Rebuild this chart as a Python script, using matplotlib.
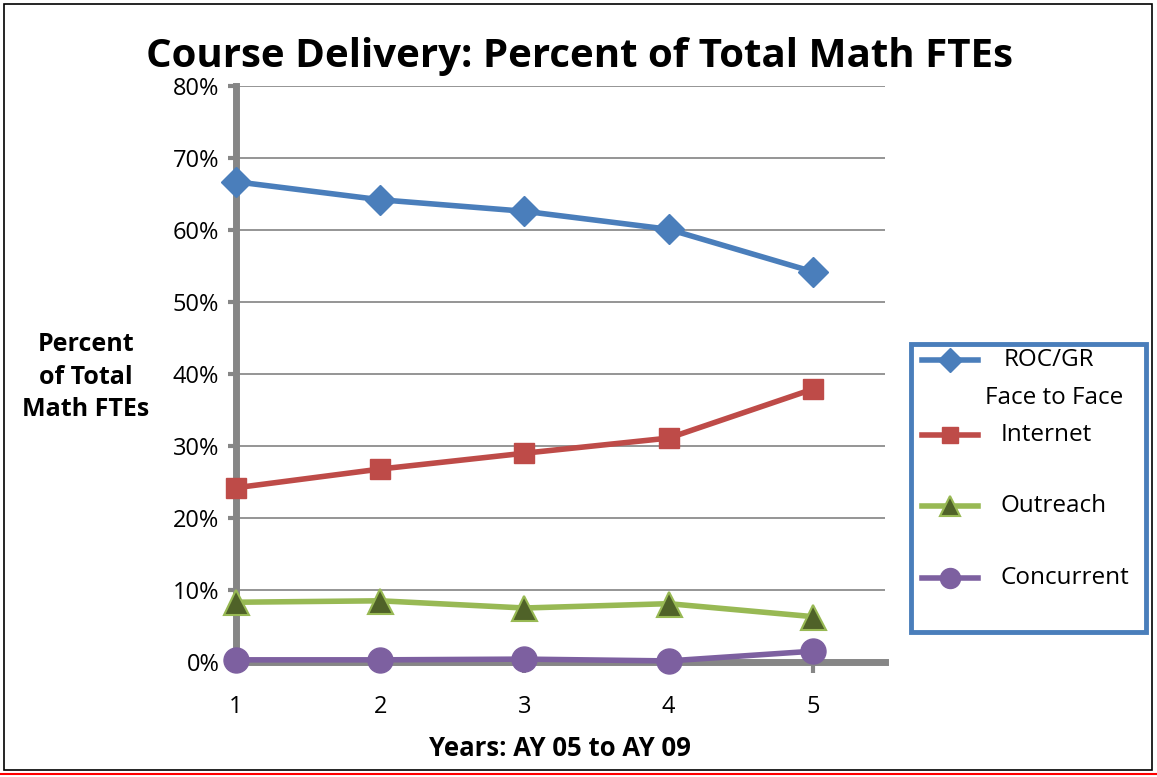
import matplotlib.pyplot as plt
from matplotlib.lines import Line2D
from matplotlib.patches import Rectangle

plt.rcParams['font.family'] = ['Open Sans', 'DejaVu Sans']

# Data (percent of total math FTEs)
years = [1, 2, 3, 4, 5]
roc_gr = [66.7, 64.2, 62.6, 60.1, 54.2]
internet = [24.2, 26.8, 29.0, 31.1, 37.9]
outreach = [8.3, 8.5, 7.5, 8.1, 6.3]
concurrent = [0.3, 0.3, 0.4, 0.15, 1.5]

names = ["ROC/GR", "Internet", "Outreach", "Concurrent"]
styles = [
    dict(color='#4A7EBB', marker='D', ms=15, mfc='#4A7EBB', mec='#4A7EBB'),
    dict(color='#BE4B48', marker='s', ms=15, mfc='#BE4B48', mec='#BE4B48'),
    dict(color='#98B954', marker='^', ms=18, mfc='#4F6228', mec='#98B954', mew=1.5),
    dict(color='#7D60A0', marker='o', ms=18, mfc='#7D60A0', mec='#7D60A0'),
]

W, H = 1157, 777
fig = plt.figure(figsize=(W / 100, H / 100), dpi=100)
ax = fig.add_axes([236 / W, 1 - 662 / H, (885 - 236) / W, (662 - 86) / H])

for vals, st in zip([roc_gr, internet, outreach, concurrent], styles):
    ax.plot(years, vals, lw=4, clip_on=False, zorder=3, **st)

ax.set_xlim(1, 5.5)
ax.set_ylim(0, 80)
ax.set_xticks(years)
ax.set_yticks(range(0, 81, 10))
ax.set_yticklabels([f"{v}%" for v in range(0, 81, 10)])
ax.yaxis.grid(True, color='#8C8C8C', lw=1.3)
ax.set_axisbelow(True)

for s in ['top', 'right']:
    ax.spines[s].set_visible(False)
for s in ['left', 'bottom']:
    ax.spines[s].set_color('#868686')
    ax.spines[s].set_linewidth(5)
ax.tick_params(axis='y', colors='#868686', length=6, width=3, labelsize=17, labelcolor='black', pad=6)
ax.tick_params(axis='x', colors='#868686', length=8, width=3, labelsize=17, labelcolor='black', pad=16)

fig.text(0.501, 1 - 56 / H, "Course Delivery: Percent of Total Math FTEs", ha='center', va='center',
         fontsize=29, fontweight='bold')
fig.text(86 / W, 1 - 377 / H, "Percent\nof Total\nMath FTEs", ha='center', va='center',
         fontsize=18, fontweight='bold', linespacing=1.4)
fig.text(560 / W, 1 - 748 / H, "Years: AY 05 to AY 09", ha='center', va='center',
         fontsize=18.5, fontweight='bold')

# legend drawn by hand so the first handle sits on the first label line
fig.add_artist(Rectangle((911 / W, 1 - 632 / H), 235 / W, 288 / H, transform=fig.transFigure,
                         fill=False, ec='#4A7EBB', lw=3.5))
rows_y = [360, 435, 506, 578]
for name, st, y in zip(names, styles, rows_y):
    yy = 1 - y / H
    lst = dict(st)
    lst['ms'] = st['ms'] * 0.8
    fig.add_artist(Line2D([922 / W, 978 / W], [yy, yy], transform=fig.transFigure, lw=4,
                          markevery=[], **lst))
    fig.add_artist(Line2D([950 / W], [yy], transform=fig.transFigure, ls='none', **lst))
    if name == "ROC/GR":
        fig.text(1049 / W, yy, name, ha='center', va='center', fontsize=17.5)
        fig.text(1054 / W, 1 - 398 / H, "Face to Face", ha='center', va='center', fontsize=17.5)
    else:
        fig.text(1001 / W, yy, name, ha='left', va='center', fontsize=17.5)

# figure border and red rule at the bottom
fig.add_artist(Rectangle((4 / W, 1 - 770 / H), 1148 / W, 766 / H, transform=fig.transFigure,
                         fill=False, ec='black', lw=1.2))
fig.add_artist(Line2D([0, 1], [1 - 774 / H] * 2, transform=fig.transFigure, color='red', lw=1.5))

fig.savefig("out.png", dpi=100)
